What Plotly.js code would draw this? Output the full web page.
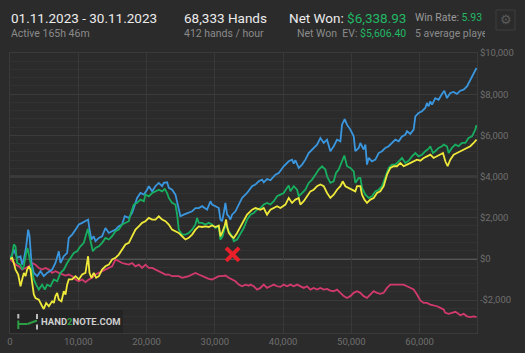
<!DOCTYPE html>
<html>
<head>
<meta charset="utf-8">
<script src="https://cdn.plot.ly/plotly-3.0.1.min.js"></script>
<style>html,body{margin:0;padding:0;background:#2b2b2b;}#chart{width:525px;height:353px;}</style>
</head>
<body>
<div id="chart"></div>
<script>
// ---- data (hands, dollars) ----
const bluePts = [[0,0],[320,210],[560,450],[1050,50],[1540,130],[1780,-280],[2030,-30],[2370,610],[2660,1420],[2860,1100],[3150,-200],[3490,-680],[3980,-840],[4470,-600],[4950,-840],[5440,-680],[6170,-520],[6660,-200],[7150,370],[7390,-200],[7880,130],[8370,290],[8610,1020],[9100,1180],[9590,1420],[10080,1670],[10570,1750],[10960,1830],[11440,1910],[11690,1340],[11930,940],[12270,1100],[12520,860],[13010,1020],[13490,1100],[13980,1500],[14470,1260],[14960,1340],[15450,1420],[15930,1580],[16420,1670],[16810,2070],[17400,1990],[17890,2230],[18620,2960],[19110,3200],[19600,3120],[20080,3360],[20330,3530],[20820,3280],[21300,3530],[21790,3690],[22280,3530],[22520,3690],[23010,3720],[23260,3450],[23740,3360],[24230,3120],[24720,2390],[24960,2070],[25450,2150],[26180,2230],[26670,2310],[27160,2470],[27650,2470],[28140,2560],[28870,2390],[29360,2800],[29600,2640],[30090,2560],[30580,2470],[30820,1910],[31060,1830],[31310,2230],[31550,2720],[31800,2150],[32040,2070],[32280,1910],[32530,2150],[33020,2310],[33500,2640],[33990,2960],[34720,3200],[35210,3400],[35460,3530],[35940,3610],[36430,3770],[36920,3850],[37160,3720],[37650,3880],[38140,3820],[38870,4090],[39360,4170],[40090,4500],[40820,4740],[41310,4820],[41560,4630],[41800,4790],[42290,4420],[42780,4580],[43260,4820],[43750,5140],[44240,5310],[44970,5550],[45460,5870],[45950,5630],[46440,5790],[46920,5230],[47410,5470],[47900,5790],[48390,5710],[48630,6520],[49020,6790],[49360,6520],[49850,6280],[50340,5950],[50580,5230],[51070,5390],[51310,5630],[51800,5310],[52050,5550],[52290,4580],[52530,4900],[53020,4740],[53510,4820],[54000,5140],[54490,5230],[54970,5390],[55460,5470],[55950,5630],[56440,5790],[56930,5710],[57410,5950],[57900,6030],[58150,6200],[58630,6070],[59120,6280],[59370,6920],[59850,7090],[60340,7170],[60830,7330],[61070,7570],[61320,7410],[61560,7650],[61810,7490],[62290,7810],[62780,7730],[63270,8010],[63610,8170],[64000,7810],[64490,8060],[64980,8110],[65470,8010],[65950,8170],[66440,8220],[66930,8380],[67420,8700],[67910,8950],[68330,9270]];

const greenPts = [[0,0],[320,210],[560,700],[810,610],[1050,-200],[1540,-280],[1780,-520],[2030,-360],[2370,290],[2560,530],[2760,210],[3150,-520],[3490,-1000],[3830,-1250],[4220,-1490],[4710,-1250],[5100,-1490],[5440,-1250],[5930,-1330],[6420,-1000],[6910,-1090],[7390,-680],[7880,-520],[8370,-200],[8860,50],[9350,290],[9830,370],[10320,610],[10810,780],[11150,1180],[11400,1460],[11640,1100],[11930,610],[12130,370],[12520,530],[13010,610],[13490,780],[13980,1020],[14470,940],[14960,1100],[15450,1340],[15930,1420],[16420,1670],[16910,1750],[17400,1830],[17640,2150],[18130,2640],[18620,2720],[19110,2880],[19600,2800],[19840,3120],[20330,3040],[20820,3200],[21300,3280],[21790,3360],[22280,3280],[22670,3400],[23010,3200],[23260,2960],[23740,2720],[24230,2640],[24480,2150],[24720,1420],[25210,1180],[25700,1180],[26180,1260],[26670,1420],[27160,1670],[27400,1990],[27650,1750],[28140,1750],[28620,1670],[29110,1750],[29600,1670],[30090,1500],[30580,1580],[30820,940],[31160,1100],[31550,1670],[31800,1500],[32040,1340],[32530,1100],[32770,860],[33260,940],[33750,1260],[34240,1500],[34720,1910],[35210,2150],[35700,2230],[36190,2390],[36680,2470],[37160,2640],[37650,2720],[38140,2640],[38630,2800],[39120,3040],[39600,3120],[40090,3200],[40580,3450],[40820,3560],[41070,3280],[41560,3530],[42040,3360],[42290,3040],[42780,3200],[43260,3360],[43750,3690],[44240,3850],[44730,4090],[45220,4340],[45700,4500],[46190,4340],[46440,4010],[46920,3690],[47410,3770],[47750,4170],[48140,4340],[48630,4740],[48970,5020],[49360,4500],[49850,4420],[50340,4250],[50580,3690],[51070,3930],[51310,3930],[51560,3450],[52050,3120],[52530,2960],[53020,3040],[53510,3280],[54000,3360],[54490,3530],[54970,3930],[55460,4420],[55950,4580],[56440,4580],[56930,4740],[57410,4900],[57900,4660],[58390,4770],[58880,4980],[59370,5140],[59850,4980],[60340,5060],[60830,5230],[61320,5350],[61560,5470],[61950,5140],[62290,5230],[62780,5390],[63270,5470],[63510,5550],[64000,5470],[64250,5140],[64730,5390],[65220,5550],[65710,5470],[66200,5630],[66690,5630],[67170,5870],[67660,5950],[68150,6280],[68330,6500]];

const yellowPts = [[0,0],[320,50],[560,-200],[810,-520],[1200,-760],[1540,-1330],[1780,-1000],[2030,-680],[2270,-840],[2510,-520],[2760,-360],[3000,-520],[3250,-1170],[3490,-1730],[3730,-1900],[4220,-1980],[4710,-2300],[4950,-2430],[5300,-2140],[5690,-2300],[6170,-2060],[6420,-2140],[6660,-1810],[6910,-1650],[7150,-1980],[7540,-2060],[7880,-1570],[8130,-1730],[8370,-1250],[8610,-1000],[9100,-1000],[9590,-840],[10080,-1000],[10570,-760],[11050,-680],[11440,130],[11640,-680],[11930,-920],[12270,-680],[12620,-920],[13010,-840],[13490,-520],[13980,-360],[14470,-280],[14960,-30],[15450,50],[15930,210],[16420,450],[16910,700],[17400,780],[17890,1100],[18380,1420],[18860,1580],[19350,1750],[19840,1830],[20330,1990],[20820,1910],[21300,1910],[21790,2070],[22280,1910],[22770,1830],[23260,1670],[23740,1420],[24230,1340],[24720,1260],[25210,1100],[25700,940],[26180,1020],[26670,1180],[27160,1420],[27650,1580],[28140,1550],[28620,1580],[29110,1550],[29600,1620],[30090,1550],[30580,1620],[30820,1100],[31060,1260],[31450,1620],[31650,1910],[31800,1580],[32040,1260],[32430,1100],[32770,1020],[33260,1260],[33750,1580],[34240,1910],[34720,2150],[35210,2310],[35460,2390],[35940,2470],[36680,2390],[37160,2470],[37650,2150],[38140,2390],[38630,2470],[39120,2560],[39600,2470],[40340,2640],[40820,2960],[41310,2720],[41800,2880],[42290,2960],[42530,2640],[43020,2800],[43510,3040],[44000,3280],[44480,3360],[44970,3530],[45460,3610],[45950,3530],[46440,3200],[46920,2960],[47410,3120],[47900,3360],[48390,3530],[48730,3770],[49120,3530],[49610,3450],[50100,3360],[50580,3280],[50830,3530],[51310,3530],[51560,3120],[51900,2880],[52290,2720],[52780,2880],[53270,2960],[53750,3200],[54240,3280],[54730,3530],[55220,4090],[55710,4420],[56190,4500],[56680,4500],[57170,4660],[57660,4500],[58150,4580],[58630,4660],[59120,4740],[59610,4820],[60100,4770],[60590,4900],[61070,4980],[61560,5060],[62050,4900],[62540,4980],[63030,5060],[63420,5140],[63760,4740],[64100,4500],[64490,4820],[64980,5060],[65470,5140],[65950,5230],[66440,5310],[66930,5390],[67420,5470],[67910,5630],[68330,5790]];

const pinkPts = [[0,0],[320,-110],[810,-280],[1290,-360],[1780,-520],[2270,-440],[2760,-360],[3250,-200],[3730,-280],[4220,-440],[4710,-520],[5200,-440],[5690,-520],[6170,-680],[6660,-600],[7150,-680],[7640,-760],[8130,-810],[8610,-760],[9100,-840],[9590,-1000],[10080,-1090],[10570,-1000],[11050,-1130],[11540,-1000],[12030,-920],[12520,-760],[13010,-680],[13490,-600],[13980,-520],[14470,-440],[14960,-360],[15450,-30],[15930,-110],[16420,-200],[16910,-240],[17400,-280],[17890,-200],[18380,-360],[18860,-280],[19350,-440],[19840,-280],[20330,-440],[20820,-440],[21300,-520],[21790,-600],[22280,-680],[22770,-760],[23260,-760],[23740,-840],[24230,-840],[24720,-840],[25210,-920],[25700,-880],[26180,-840],[26670,-760],[27160,-680],[27650,-760],[28140,-840],[28620,-920],[29110,-970],[29600,-1000],[30090,-920],[30580,-840],[31060,-840],[31550,-810],[32040,-920],[32530,-1000],[33020,-1090],[33500,-1250],[33990,-1330],[34480,-1250],[34970,-1300],[35210,-1250],[35700,-1330],[36190,-1490],[36680,-1410],[37160,-1250],[37650,-1410],[38140,-1330],[38630,-1250],[39120,-1330],[39600,-1360],[40090,-1250],[40580,-1330],[41070,-1250],[41560,-1330],[42040,-1250],[42530,-1330],[43020,-1410],[43510,-1330],[44000,-1490],[44480,-1410],[44970,-1490],[45460,-1410],[45950,-1490],[46440,-1460],[46920,-1540],[47410,-1570],[47900,-1490],[48390,-1650],[48880,-1810],[49360,-1900],[49850,-1810],[50340,-1650],[50830,-1570],[51310,-1650],[51800,-1810],[52290,-1900],[52780,-1730],[53270,-1570],[53750,-1650],[54240,-1700],[54730,-1650],[55220,-1410],[55710,-1250],[56190,-1250],[56680,-1220],[57170,-1250],[57660,-1250],[58150,-1330],[58630,-1410],[59120,-1490],[59610,-1730],[60100,-2020],[60590,-2140],[61070,-2140],[61560,-2220],[62050,-2250],[62540,-2300],[63030,-2380],[63510,-2460],[63760,-2620],[64250,-2670],[64730,-2620],[65220,-2570],[65470,-2620],[65950,-2740],[66440,-2670],[66930,-2790],[67420,-2830],[67910,-2790],[68330,-2830]];

const markHands = [32600];
const markValue = [220];

const yTickVals = [-2000, 0, 2000, 4000, 6000, 8000, 10000];
const yTickText = ['-$2,000', '$0', '$2,000', '$4,000', '$6,000', '$8,000', '$10,000'];
const highlightLines = [0, 4000];

const headerDate = '01.11.2023 - 30.11.2023';
const headerActive = 'Active 165h 46m';
const headerHands = '68,333 Hands';
const headerRate = '412 hands / hour';
const netWon = '$6,338.93';
const netWonEV = '$5,606.40';
const winRate = '5.93';
const avgPlayers = '5 average players';

// ---- layout helpers ----
const W = 525, H = 353, L = 10, R = 48, T = 53, B = 20;
const PW = W - L - R, PH = H - T - B;
const pxX = p => (p - L) / PW;
const pxY = p => (H - B - p) / PH;

const GREEN = '#22b866';
const colors = {blue:'#3a97df', green:'#18ae5f', yellow:'#efe93a', pink:'#d23a6c'};

function tr(pts, color) {
  return {type:'scatter', mode:'lines', x: pts.map(p=>p[0]), y: pts.map(p=>p[1]),
    line:{color:color, width:1.8}, hoverinfo:'skip'};
}
const data = [
  tr(pinkPts, colors.pink),
  tr(bluePts, colors.blue),
  tr(greenPts, colors.green),
  tr(yellowPts, colors.yellow),
  {type:'scatter', mode:'markers', x: markHands, y: markValue,
   marker:{symbol:'x-thin', size:13, color:'#e8202a', line:{color:'#e8202a', width:4}}, hoverinfo:'skip'}
];

const shapes = highlightLines.map(v => ({type:'line', xref:'paper', x0:0, x1:1, yref:'y', y0:v, y1:v,
  line:{color:'#636363', width:1.5}, layer:'below'}));

// watermark box
shapes.push({type:'rect', xref:'paper', yref:'paper', x0:pxX(10), x1:pxX(123), y0:pxY(333), y1:pxY(310),
  fillcolor:'rgba(36,36,36,0.9)', line:{width:0}, layer:'above'});
// logo strokes
const seg = (x0,y0,x1,y1,c) => ({type:'line', xref:'paper', yref:'paper', x0:pxX(x0), y0:pxY(y0), x1:pxX(x1), y1:pxY(y1), line:{color:c, width:2}, layer:'above'});
shapes.push(seg(18.3,314,18.3,318.5,'#bdbdbd'));
shapes.push(seg(18.3,320.5,18.3,329,'#2e9e45'));
shapes.push(seg(18.3,324,27.5,324,'#2e9e45'));
shapes.push(seg(27.5,324,37,320.5,'#2e9e45'));
shapes.push(seg(37,314,37,319,'#bdbdbd'));
shapes.push(seg(37,324.5,37,329.5,'#bdbdbd'));
// gear box
shapes.push({type:'rect', xref:'paper', yref:'paper', x0:pxX(496), x1:pxX(515), y0:pxY(30), y1:pxY(10),
  fillcolor:'rgba(0,0,0,0)', line:{color:'#3f3f3f', width:1}});

const ann = (text, px, py, size, color, anchor, extra) => Object.assign({
  text:text, xref:'paper', yref:'paper', x:pxX(px), y:pxY(py), xanchor:anchor||'left', yanchor:'middle',
  showarrow:false, font:{family:'Roboto, sans-serif', size:size, color:color}, align:'left'
}, extra||{});

const annotations = [
  ann(headerDate, 9, 17.5, 13.5, '#ececec'),
  ann(headerActive, 9, 33, 10.5, '#8a8a8a'),
  ann(headerHands, 182, 17.5, 13.5, '#ececec'),
  ann(headerRate, 182, 33, 10.5, '#8a8a8a'),
  ann('Net Won: <span style="color:' + GREEN + '">' + netWon + '</span>', 408, 17.5, 13.5, '#ececec', 'right'),
  ann('Net Won\u00a0\u00a0EV: <span style="color:' + GREEN + '">' + netWonEV + '</span>', 408, 33, 10.5, '#8a8a8a', 'right'),
  ann('Win Rate: <span style="color:' + GREEN + '">' + winRate + '</span>', 413, 17.5, 10.5, '#9a9a9a'),
  ann(avgPlayers, 413, 33, 10.5, '#8a8a8a', 'left', {width:70, align:'left'}),
  ann('\u2699', 505.5, 20, 13, '#5a5a5a', 'center'),
  ann('<b>HAND<span style="color:#2e9e45">2</span>NOTE.COM</b>', 39, 321.5, 9.5, '#cfcfcf')
];

const layout = {
  width: W, height: H,
  paper_bgcolor:'#2b2b2b', plot_bgcolor:'#2b2b2b',
  margin:{l:L, r:R, t:T, b:B, pad:0},
  showlegend:false,
  font:{family:'Roboto, sans-serif', color:'#6f6f6f', size:9.5},
  xaxis:{range:[0,68400], tick0:0, dtick:10000, tickformat:',d', showgrid:true, gridcolor:'#383838',
    zeroline:false, showline:true, linecolor:'#3a3a3a', mirror:true, ticks:'',
    tickfont:{family:'Roboto, sans-serif', size:9.5, color:'#6f6f6f'}},
  yaxis:{range:[-3600,10000], side:'right', tickmode:'array', tickvals:yTickVals, ticktext:yTickText,
    showgrid:true, gridcolor:'#3b3b3b',
    minor:{tick0:0, dtick:400, showgrid:true, gridcolor:'#323232', ticks:''},
    zeroline:false, showline:true, linecolor:'#3a3a3a', mirror:true, ticks:'',
    tickfont:{family:'Roboto, sans-serif', size:9.5, color:'#6f6f6f'}},
  shapes: shapes,
  annotations: annotations
};

Plotly.newPlot('chart', data, layout, {staticPlot:true, displayModeBar:false});
</script>
</body>
</html>
